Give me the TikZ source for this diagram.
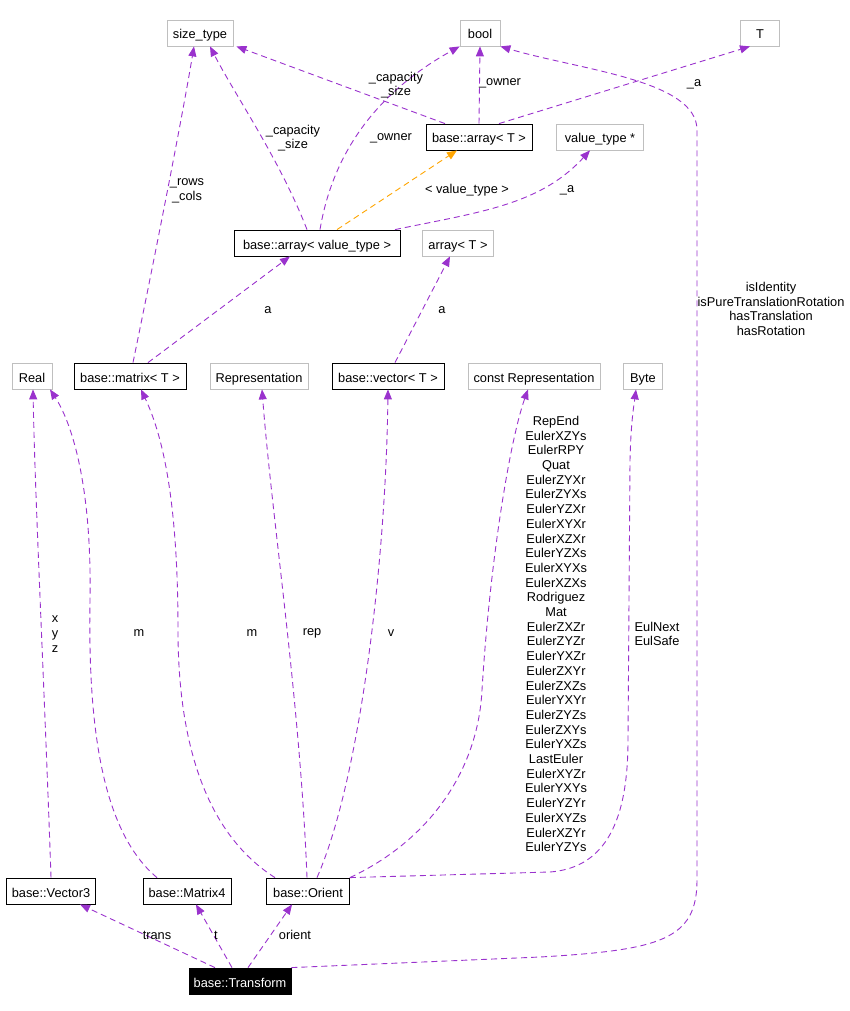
\documentclass[tikz,border=0pt]{standalone}
\usepackage{fontspec}
\setmainfont{Liberation Sans}
\usepackage{tikz}
\usetikzlibrary{arrows.meta}
\definecolor{EdgePurple}{HTML}{9A32CD}
\definecolor{BoxGray}{HTML}{BFBFBF}
\definecolor{TplOrange}{HTML}{FFA500}

\begin{document}
\begin{tikzpicture}[x=1pt,y=-1pt,
  cls/.style={draw=black,line width=0.8pt,minimum height=26pt,inner xsep=2pt,inner ysep=0pt,text height=14pt,text depth=2pt,font=\fontsize{12.8}{14.7}\selectfont},
  ext/.style={cls,draw=BoxGray},
  main/.style={cls,fill=black,text=white},
  rel/.style={-{Triangle[length=10pt,width=8pt]},EdgePurple,line width=0.9pt,dash pattern=on 6pt off 4pt},
  tpl/.style={rel,TplOrange},
  lbl/.style={align=center,inner sep=0pt,font=\fontsize{12.8}{14.7}\selectfont}
]
\useasboundingbox (0,0) rectangle (850,1011);

\node[ext,minimum width=66pt] (sizetype) at (200,33) {size\_type};
\node[ext,minimum width=40pt] (bool) at (480,33) {bool};
\node[ext,minimum width=39pt] (T) at (760,33) {T};
\node[cls,minimum width=106pt] (arrT) at (479,137) {base::array< T >};
\node[ext,minimum width=87pt] (valtype) at (600,137) {value\_type *};
\node[cls,minimum width=166pt] (arrval) at (317,243) {base::array< value\_type >};
\node[ext,minimum width=71pt] (arrayT) at (458,243) {array< T >};
\node[ext,minimum width=40pt] (Real) at (32,376) {Real};
\node[cls,minimum width=112pt] (matrix) at (130,376) {base::matrix< T >};
\node[ext,minimum width=98pt] (Repr) at (259,376) {Representation};
\node[cls,minimum width=112pt] (vector) at (388,376) {base::vector< T >};
\node[ext,minimum width=132pt] (constRepr) at (534,376) {const Representation};
\node[ext,minimum width=39pt] (Byte) at (643,376) {Byte};
\node[cls,minimum width=89pt] (Vector3) at (51,891) {base::Vector3};
\node[cls,minimum width=88pt] (Matrix4) at (187,891) {base::Matrix4};
\node[cls,minimum width=83pt] (Orient) at (308,891) {base::Orient};
\node[main,minimum width=102pt] (Transform) at (240,981) {base::Transform};

\draw[rel] ([xshift=-25pt]Transform.north) -- ([xshift=29pt]Vector3.south);
\draw[rel] ([xshift=-8pt]Transform.north) -- ([xshift=9pt]Matrix4.south);
\draw[rel] ([xshift=8pt]Transform.north) -- ([xshift=-16pt]Orient.south);
\draw[rel] (Transform.north east) -- (540,957) .. controls (660,950) and (697,940) .. (697,880) -- (697,130) .. controls (697,80) and (580,70) .. (bool.south east);

\draw[rel] (Vector3.north) .. controls (45,700) and (35,500) .. ([xshift=1pt]Real.south);
\draw[rel] ([xshift=-30pt]Matrix4.north) .. controls (100,830) and (88,720) .. (90,600) .. controls (92,480) and (70,420) .. ([xshift=18pt]Real.south);
\draw[rel] ([xshift=-33pt]Orient.north) .. controls (200,830) and (178,730) .. (178,630) .. controls (178,490) and (160,430) .. ([xshift=11pt]matrix.south);
\draw[rel] ([xshift=-1pt]Orient.north) .. controls (300,700) and (272,520) .. ([xshift=3pt]Repr.south);
\draw[rel] ([xshift=9pt]Orient.north) .. controls (360,780) and (386,560) .. (vector.south);
\draw[rel] (Orient.north east) .. controls (430,840) and (478,770) .. (482,690) .. controls (490,560) and (510,440) .. ([xshift=-6pt]constRepr.south);
\draw[rel] (Orient.north east) -- (550,872) .. controls (600,868) and (628,830) .. (628,740) -- (630,460) .. controls (631,420) and (634,405) .. ([xshift=-7pt]Byte.south);

\draw[rel] ([xshift=3pt]matrix.north) .. controls (150,280) and (180,130) .. ([xshift=-6pt]sizetype.south);
\draw[rel] ([xshift=18pt]matrix.north) -- ([xshift=-27pt]arrval.south);
\draw[rel] ([xshift=7pt]vector.north) -- ([xshift=-8pt]arrayT.south);

\draw[rel] ([xshift=-10pt]arrval.north) .. controls (280,160) and (235,95) .. ([xshift=10pt]sizetype.south);
\draw[rel] ([xshift=3pt]arrval.north) .. controls (335,140) and (390,85) .. (bool.south west);
\draw[tpl] ([xshift=20pt]arrval.north) -- ([xshift=-22pt]arrT.south);
\draw[rel] ([xshift=78pt]arrval.north) .. controls (480,212) and (540,205) .. ([xshift=-10pt]valtype.south);

\draw[rel] ([xshift=-34pt]arrT.north) -- ([xshift=3pt]sizetype.south east);
\draw[rel] (arrT.north) -- (bool.south);
\draw[rel] ([xshift=20pt]arrT.north) -- ([xshift=-10pt]T.south);

\node[lbl] (lTrans) at (157,935) {trans};
\node[lbl] (lT) at (216,935) {t};
\node[lbl] (lOrient) at (295,935) {orient};
\node[lbl] (lFlags) at (771,309) {isIdentity\\isPureTranslationRotation\\hasTranslation\\hasRotation};
\node[lbl] (lXYZ) at (55,634) {x\\y\\z};
\node[lbl] (lM1) at (139,633) {m};
\node[lbl] (lM2) at (252,633) {m};
\node[lbl] (lRep) at (312,633) {rep};
\node[lbl] (lV) at (391,633) {v};
\node[lbl] (lReps) at (556,634) {RepEnd\\EulerXZYs\\EulerRPY\\Quat\\EulerZYXr\\EulerZYXs\\EulerYZXr\\EulerXYXr\\EulerXZXr\\EulerYZXs\\EulerXYXs\\EulerXZXs\\Rodriguez\\Mat\\EulerZXZr\\EulerZYZr\\EulerYXZr\\EulerZXYr\\EulerZXZs\\EulerYXYr\\EulerZYZs\\EulerZXYs\\EulerYXZs\\LastEuler\\EulerXYZr\\EulerYXYs\\EulerYZYr\\EulerXYZs\\EulerXZYr\\EulerYZYs};
\node[lbl] (lEul) at (657,634) {EulNext\\EulSafe};
\node[lbl] (lRows) at (187,191) {\_rows\\\_cols};
\node[lbl] (lA1) at (268,310) {a};
\node[lbl] (lA2) at (442,310) {a};
\node[lbl] (lCap1) at (293,138) {\_capacity\\\_size};
\node[lbl] (lOwn1) at (391,138) {\_owner};
\node[lbl] (lTpl) at (467,190) {< value\_type >};
\node[lbl] (lA3) at (567,190) {\_a};
\node[lbl] (lCap2) at (396,85) {\_capacity\\\_size};
\node[lbl] (lOwn2) at (500,83) {\_owner};
\node[lbl] (lA4) at (694,84) {\_a};
\end{tikzpicture}
\end{document}
